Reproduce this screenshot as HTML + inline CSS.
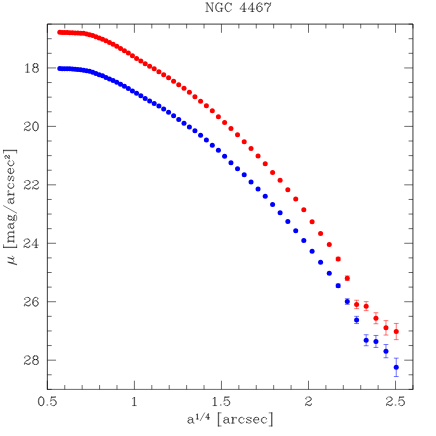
<!DOCTYPE html>
<html><head><meta charset="utf-8"><title>NGC 4467</title>
<style>
html,body{margin:0;padding:0;background:#fff;}
svg{display:block;}
</style></head>
<body>
<svg width="436" height="436" viewBox="0 0 436 436">
<rect width="436" height="436" fill="#fff"/>
<path d="M47.35 389.4V24.1H412.95V389.4" fill="none" stroke="#000" stroke-width="0.78"/>
<path d="M46.96 389.4H413.34" fill="none" stroke="#000" stroke-width="0.58"/>
<path d="M47.35 389.40v-8.7M47.35 24.10v8.7M64.76 389.40v-4.35M64.76 24.10v4.35M82.17 389.40v-4.35M82.17 24.10v4.35M99.58 389.40v-4.35M99.58 24.10v4.35M116.99 389.40v-4.35M116.99 24.10v4.35M134.40 389.40v-8.7M134.40 24.10v8.7M151.81 389.40v-4.35M151.81 24.10v4.35M169.22 389.40v-4.35M169.22 24.10v4.35M186.63 389.40v-4.35M186.63 24.10v4.35M204.04 389.40v-4.35M204.04 24.10v4.35M221.45 389.40v-8.7M221.45 24.10v8.7M238.85 389.40v-4.35M238.85 24.10v4.35M256.26 389.40v-4.35M256.26 24.10v4.35M273.67 389.40v-4.35M273.67 24.10v4.35M291.08 389.40v-4.35M291.08 24.10v4.35M308.49 389.40v-8.7M308.49 24.10v8.7M325.90 389.40v-4.35M325.90 24.10v4.35M343.31 389.40v-4.35M343.31 24.10v4.35M360.72 389.40v-4.35M360.72 24.10v4.35M378.13 389.40v-4.35M378.13 24.10v4.35M395.54 389.40v-8.7M395.54 24.10v8.7M412.95 389.40v-4.35M412.95 24.10v4.35M47.35 24.10h4.35M412.95 24.10h-4.35M47.35 38.71h4.35M412.95 38.71h-4.35M47.35 53.32h4.35M412.95 53.32h-4.35M47.35 67.94h8.7M412.95 67.94h-8.7M47.35 82.55h4.35M412.95 82.55h-4.35M47.35 97.16h4.35M412.95 97.16h-4.35M47.35 111.77h4.35M412.95 111.77h-4.35M47.35 126.38h8.7M412.95 126.38h-8.7M47.35 141.00h4.35M412.95 141.00h-4.35M47.35 155.61h4.35M412.95 155.61h-4.35M47.35 170.22h4.35M412.95 170.22h-4.35M47.35 184.83h8.7M412.95 184.83h-8.7M47.35 199.44h4.35M412.95 199.44h-4.35M47.35 214.06h4.35M412.95 214.06h-4.35M47.35 228.67h4.35M412.95 228.67h-4.35M47.35 243.28h8.7M412.95 243.28h-8.7M47.35 257.89h4.35M412.95 257.89h-4.35M47.35 272.50h4.35M412.95 272.50h-4.35M47.35 287.12h4.35M412.95 287.12h-4.35M47.35 301.73h8.7M412.95 301.73h-8.7M47.35 316.34h4.35M412.95 316.34h-4.35M47.35 330.95h4.35M412.95 330.95h-4.35M47.35 345.56h4.35M412.95 345.56h-4.35M47.35 360.18h8.7M412.95 360.18h-8.7M47.35 374.79h4.35M412.95 374.79h-4.35M47.35 389.40h4.35M412.95 389.40h-4.35" stroke="#000" stroke-width="0.58" fill="none"/>
<path d="M40.79 396.99L39.56 397.40L38.74 398.63L38.33 400.68L38.33 401.91L38.74 403.96L39.56 405.19L40.79 405.60L41.61 405.60L42.84 405.19L43.66 403.96L44.07 401.91L44.07 400.68L43.66 398.63L42.84 397.40L41.61 396.99L40.79 396.99M40.79 396.99L39.97 397.40L39.56 397.81L39.15 398.63L38.74 400.68L38.74 401.91L39.15 403.96L39.56 404.78L39.97 405.19L40.79 405.60M41.61 405.60L42.43 405.19L42.84 404.78L43.25 403.96L43.66 401.91L43.66 400.68L43.25 398.63L42.84 397.81L42.43 397.40L41.61 396.99M47.35 404.78L46.94 405.19L47.35 405.60L47.76 405.19L47.35 404.78M51.45 396.99L50.63 401.09M50.63 401.09L51.45 400.27L52.68 399.86L53.91 399.86L55.14 400.27L55.96 401.09L56.37 402.32L56.37 403.14L55.96 404.37L55.14 405.19L53.91 405.60L52.68 405.60L51.45 405.19L51.04 404.78L50.63 403.96L50.63 403.55L51.04 403.14L51.45 403.55L51.04 403.96M53.91 399.86L54.73 400.27L55.55 401.09L55.96 402.32L55.96 403.14L55.55 404.37L54.73 405.19L53.91 405.60M51.45 396.99L55.55 396.99M51.45 397.40L53.50 397.40L55.55 396.99M132.55 398.63L133.37 398.22L134.60 396.99L134.60 405.60M134.19 397.40L134.19 405.60M132.55 405.60L136.24 405.60M213.04 398.63L213.86 398.22L215.09 396.99L215.09 405.60M214.68 397.40L214.68 405.60M213.04 405.60L216.73 405.60M220.83 404.78L220.42 405.19L220.83 405.60L221.24 405.19L220.83 404.78M224.93 396.99L224.11 401.09M224.11 401.09L224.93 400.27L226.16 399.86L227.39 399.86L228.62 400.27L229.44 401.09L229.85 402.32L229.85 403.14L229.44 404.37L228.62 405.19L227.39 405.60L226.16 405.60L224.93 405.19L224.52 404.78L224.11 403.96L224.11 403.55L224.52 403.14L224.93 403.55L224.52 403.96M227.39 399.86L228.21 400.27L229.03 401.09L229.44 402.32L229.44 403.14L229.03 404.37L228.21 405.19L227.39 405.60M224.93 396.99L229.03 396.99M224.93 397.40L226.98 397.40L229.03 396.99M306.03 398.63L306.44 399.04L306.03 399.45L305.62 399.04L305.62 398.63L306.03 397.81L306.44 397.40L307.67 396.99L309.31 396.99L310.54 397.40L310.95 397.81L311.36 398.63L311.36 399.45L310.95 400.27L309.72 401.09L307.67 401.91L306.85 402.32L306.03 403.14L305.62 404.37L305.62 405.60M309.31 396.99L310.13 397.40L310.54 397.81L310.95 398.63L310.95 399.45L310.54 400.27L309.31 401.09L307.67 401.91M305.62 404.78L306.03 404.37L306.85 404.37L308.90 405.19L310.13 405.19L310.95 404.78L311.36 404.37M306.85 404.37L308.90 405.60L310.54 405.60L310.95 405.19L311.36 404.37L311.36 403.55M386.93 398.63L387.34 399.04L386.93 399.45L386.52 399.04L386.52 398.63L386.93 397.81L387.34 397.40L388.57 396.99L390.21 396.99L391.44 397.40L391.85 397.81L392.26 398.63L392.26 399.45L391.85 400.27L390.62 401.09L388.57 401.91L387.75 402.32L386.93 403.14L386.52 404.37L386.52 405.60M390.21 396.99L391.03 397.40L391.44 397.81L391.85 398.63L391.85 399.45L391.44 400.27L390.21 401.09L388.57 401.91M386.52 404.78L386.93 404.37L387.75 404.37L389.80 405.19L391.03 405.19L391.85 404.78L392.26 404.37M387.75 404.37L389.80 405.60L391.44 405.60L391.85 405.19L392.26 404.37L392.26 403.55M395.54 404.78L395.13 405.19L395.54 405.60L395.95 405.19L395.54 404.78M399.64 396.99L398.82 401.09M398.82 401.09L399.64 400.27L400.87 399.86L402.10 399.86L403.33 400.27L404.15 401.09L404.56 402.32L404.56 403.14L404.15 404.37L403.33 405.19L402.10 405.60L400.87 405.60L399.64 405.19L399.23 404.78L398.82 403.96L398.82 403.55L399.23 403.14L399.64 403.55L399.23 403.96M402.10 399.86L402.92 400.27L403.74 401.09L404.15 402.32L404.15 403.14L403.74 404.37L402.92 405.19L402.10 405.60M399.64 396.99L403.74 396.99M399.64 397.40L401.69 397.40L403.74 396.99M25.69 65.27L26.51 64.86L27.74 63.63L27.74 72.24M27.33 64.04L27.33 72.24M25.69 72.24L29.38 72.24M34.71 63.63L33.48 64.04L33.07 64.86L33.07 66.09L33.48 66.91L34.71 67.32L36.35 67.32L37.58 66.91L37.99 66.09L37.99 64.86L37.58 64.04L36.35 63.63L34.71 63.63M34.71 63.63L33.89 64.04L33.48 64.86L33.48 66.09L33.89 66.91L34.71 67.32M36.35 67.32L37.17 66.91L37.58 66.09L37.58 64.86L37.17 64.04L36.35 63.63M34.71 67.32L33.48 67.73L33.07 68.14L32.66 68.96L32.66 70.60L33.07 71.42L33.48 71.83L34.71 72.24L36.35 72.24L37.58 71.83L37.99 71.42L38.40 70.60L38.40 68.96L37.99 68.14L37.58 67.73L36.35 67.32M34.71 67.32L33.89 67.73L33.48 68.14L33.07 68.96L33.07 70.60L33.48 71.42L33.89 71.83L34.71 72.24M36.35 72.24L37.17 71.83L37.58 71.42L37.99 70.60L37.99 68.96L37.58 68.14L37.17 67.73L36.35 67.32M24.87 123.72L25.28 124.13L24.87 124.54L24.46 124.13L24.46 123.72L24.87 122.90L25.28 122.49L26.51 122.08L28.15 122.08L29.38 122.49L29.79 122.90L30.20 123.72L30.20 124.54L29.79 125.36L28.56 126.18L26.51 127.00L25.69 127.41L24.87 128.23L24.46 129.46L24.46 130.69M28.15 122.08L28.97 122.49L29.38 122.90L29.79 123.72L29.79 124.54L29.38 125.36L28.15 126.18L26.51 127.00M24.46 129.87L24.87 129.46L25.69 129.46L27.74 130.28L28.97 130.28L29.79 129.87L30.20 129.46M25.69 129.46L27.74 130.69L29.38 130.69L29.79 130.28L30.20 129.46L30.20 128.64M35.12 122.08L33.89 122.49L33.07 123.72L32.66 125.77L32.66 127.00L33.07 129.05L33.89 130.28L35.12 130.69L35.94 130.69L37.17 130.28L37.99 129.05L38.40 127.00L38.40 125.77L37.99 123.72L37.17 122.49L35.94 122.08L35.12 122.08M35.12 122.08L34.30 122.49L33.89 122.90L33.48 123.72L33.07 125.77L33.07 127.00L33.48 129.05L33.89 129.87L34.30 130.28L35.12 130.69M35.94 130.69L36.76 130.28L37.17 129.87L37.58 129.05L37.99 127.00L37.99 125.77L37.58 123.72L37.17 122.90L36.76 122.49L35.94 122.08M24.87 182.17L25.28 182.58L24.87 182.99L24.46 182.58L24.46 182.17L24.87 181.35L25.28 180.94L26.51 180.53L28.15 180.53L29.38 180.94L29.79 181.35L30.20 182.17L30.20 182.99L29.79 183.81L28.56 184.63L26.51 185.45L25.69 185.86L24.87 186.68L24.46 187.91L24.46 189.14M28.15 180.53L28.97 180.94L29.38 181.35L29.79 182.17L29.79 182.99L29.38 183.81L28.15 184.63L26.51 185.45M24.46 188.32L24.87 187.91L25.69 187.91L27.74 188.73L28.97 188.73L29.79 188.32L30.20 187.91M25.69 187.91L27.74 189.14L29.38 189.14L29.79 188.73L30.20 187.91L30.20 187.09M33.07 182.17L33.48 182.58L33.07 182.99L32.66 182.58L32.66 182.17L33.07 181.35L33.48 180.94L34.71 180.53L36.35 180.53L37.58 180.94L37.99 181.35L38.40 182.17L38.40 182.99L37.99 183.81L36.76 184.63L34.71 185.45L33.89 185.86L33.07 186.68L32.66 187.91L32.66 189.14M36.35 180.53L37.17 180.94L37.58 181.35L37.99 182.17L37.99 182.99L37.58 183.81L36.35 184.63L34.71 185.45M32.66 188.32L33.07 187.91L33.89 187.91L35.94 188.73L37.17 188.73L37.99 188.32L38.40 187.91M33.89 187.91L35.94 189.14L37.58 189.14L37.99 188.73L38.40 187.91L38.40 187.09M24.46 240.61L24.87 241.02L24.46 241.43L24.05 241.02L24.05 240.61L24.46 239.79L24.87 239.38L26.10 238.97L27.74 238.97L28.97 239.38L29.38 239.79L29.79 240.61L29.79 241.43L29.38 242.25L28.15 243.07L26.10 243.89L25.28 244.30L24.46 245.12L24.05 246.35L24.05 247.58M27.74 238.97L28.56 239.38L28.97 239.79L29.38 240.61L29.38 241.43L28.97 242.25L27.74 243.07L26.10 243.89M24.05 246.76L24.46 246.35L25.28 246.35L27.33 247.17L28.56 247.17L29.38 246.76L29.79 246.35M25.28 246.35L27.33 247.58L28.97 247.58L29.38 247.17L29.79 246.35L29.79 245.53M35.94 239.79L35.94 247.58M36.35 238.97L36.35 247.58M36.35 238.97L31.84 245.12L38.40 245.12M34.71 247.58L37.58 247.58M24.87 299.06L25.28 299.47L24.87 299.88L24.46 299.47L24.46 299.06L24.87 298.24L25.28 297.83L26.51 297.42L28.15 297.42L29.38 297.83L29.79 298.24L30.20 299.06L30.20 299.88L29.79 300.70L28.56 301.52L26.51 302.34L25.69 302.75L24.87 303.57L24.46 304.80L24.46 306.03M28.15 297.42L28.97 297.83L29.38 298.24L29.79 299.06L29.79 299.88L29.38 300.70L28.15 301.52L26.51 302.34M24.46 305.21L24.87 304.80L25.69 304.80L27.74 305.62L28.97 305.62L29.79 305.21L30.20 304.80M25.69 304.80L27.74 306.03L29.38 306.03L29.79 305.62L30.20 304.80L30.20 303.98M37.58 298.65L37.17 299.06L37.58 299.47L37.99 299.06L37.99 298.65L37.58 297.83L36.76 297.42L35.53 297.42L34.30 297.83L33.48 298.65L33.07 299.47L32.66 301.11L32.66 303.57L33.07 304.80L33.89 305.62L35.12 306.03L35.94 306.03L37.17 305.62L37.99 304.80L38.40 303.57L38.40 303.16L37.99 301.93L37.17 301.11L35.94 300.70L35.53 300.70L34.30 301.11L33.48 301.93L33.07 303.16M35.53 297.42L34.71 297.83L33.89 298.65L33.48 299.47L33.07 301.11L33.07 303.57L33.48 304.80L34.30 305.62L35.12 306.03M35.94 306.03L36.76 305.62L37.58 304.80L37.99 303.57L37.99 303.16L37.58 301.93L36.76 301.11L35.94 300.70M24.87 357.51L25.28 357.92L24.87 358.33L24.46 357.92L24.46 357.51L24.87 356.69L25.28 356.28L26.51 355.87L28.15 355.87L29.38 356.28L29.79 356.69L30.20 357.51L30.20 358.33L29.79 359.15L28.56 359.97L26.51 360.79L25.69 361.20L24.87 362.02L24.46 363.25L24.46 364.48M28.15 355.87L28.97 356.28L29.38 356.69L29.79 357.51L29.79 358.33L29.38 359.15L28.15 359.97L26.51 360.79M24.46 363.66L24.87 363.25L25.69 363.25L27.74 364.07L28.97 364.07L29.79 363.66L30.20 363.25M25.69 363.25L27.74 364.48L29.38 364.48L29.79 364.07L30.20 363.25L30.20 362.43M34.71 355.87L33.48 356.28L33.07 357.10L33.07 358.33L33.48 359.15L34.71 359.56L36.35 359.56L37.58 359.15L37.99 358.33L37.99 357.10L37.58 356.28L36.35 355.87L34.71 355.87M34.71 355.87L33.89 356.28L33.48 357.10L33.48 358.33L33.89 359.15L34.71 359.56M36.35 359.56L37.17 359.15L37.58 358.33L37.58 357.10L37.17 356.28L36.35 355.87M34.71 359.56L33.48 359.97L33.07 360.38L32.66 361.20L32.66 362.84L33.07 363.66L33.48 364.07L34.71 364.48L36.35 364.48L37.58 364.07L37.99 363.66L38.40 362.84L38.40 361.20L37.99 360.38L37.58 359.97L36.35 359.56M34.71 359.56L33.89 359.97L33.48 360.38L33.07 361.20L33.07 362.84L33.48 363.66L33.89 364.07L34.71 364.48M36.35 364.48L37.17 364.07L37.58 363.66L37.99 362.84L37.99 361.20L37.58 360.38L37.17 359.97L36.35 359.56M207.04 2.94L207.04 11.55M207.45 2.94L212.37 10.73M207.45 3.76L212.37 11.55M212.37 2.94L212.37 11.55M205.81 2.94L207.45 2.94M211.14 2.94L213.60 2.94M205.81 11.55L208.27 11.55M221.39 4.17L221.80 5.40L221.80 2.94L221.39 4.17L220.57 3.35L219.34 2.94L218.52 2.94L217.29 3.35L216.47 4.17L216.06 4.99L215.65 6.22L215.65 8.27L216.06 9.50L216.47 10.32L217.29 11.14L218.52 11.55L219.34 11.55L220.57 11.14L221.39 10.32M218.52 2.94L217.70 3.35L216.88 4.17L216.47 4.99L216.06 6.22L216.06 8.27L216.47 9.50L216.88 10.32L217.70 11.14L218.52 11.55M221.39 8.27L221.39 11.55M221.80 8.27L221.80 11.55M220.16 8.27L223.03 8.27M230.82 4.17L231.23 5.40L231.23 2.94L230.82 4.17L230.00 3.35L228.77 2.94L227.95 2.94L226.72 3.35L225.90 4.17L225.49 4.99L225.08 6.22L225.08 8.27L225.49 9.50L225.90 10.32L226.72 11.14L227.95 11.55L228.77 11.55L230.00 11.14L230.82 10.32L231.23 9.50M227.95 2.94L227.13 3.35L226.31 4.17L225.90 4.99L225.49 6.22L225.49 8.27L225.90 9.50L226.31 10.32L227.13 11.14L227.95 11.55M243.94 3.76L243.94 11.55M244.35 2.94L244.35 11.55M244.35 2.94L239.84 9.09L246.40 9.09M242.71 11.55L245.58 11.55M252.14 3.76L252.14 11.55M252.55 2.94L252.55 11.55M252.55 2.94L248.04 9.09L254.60 9.09M250.91 11.55L253.78 11.55M261.57 4.17L261.16 4.58L261.57 4.99L261.98 4.58L261.98 4.17L261.57 3.35L260.75 2.94L259.52 2.94L258.29 3.35L257.47 4.17L257.06 4.99L256.65 6.63L256.65 9.09L257.06 10.32L257.88 11.14L259.11 11.55L259.93 11.55L261.16 11.14L261.98 10.32L262.39 9.09L262.39 8.68L261.98 7.45L261.16 6.63L259.93 6.22L259.52 6.22L258.29 6.63L257.47 7.45L257.06 8.68M259.52 2.94L258.70 3.35L257.88 4.17L257.47 4.99L257.06 6.63L257.06 9.09L257.47 10.32L258.29 11.14L259.11 11.55M259.93 11.55L260.75 11.14L261.57 10.32L261.98 9.09L261.98 8.68L261.57 7.45L260.75 6.63L259.93 6.22M264.85 2.94L264.85 5.40M264.85 4.58L265.26 3.76L266.08 2.94L266.90 2.94L268.95 4.17L269.77 4.17L270.18 3.76L270.59 2.94M265.26 3.76L266.08 3.35L266.90 3.35L268.95 4.17M270.59 2.94L270.59 4.17L270.18 5.40L268.54 7.45L268.13 8.27L267.72 9.50L267.72 11.55M270.18 5.40L268.13 7.45L267.72 8.27L267.31 9.50L267.31 11.55M188.65 418.18L188.65 418.59L188.24 418.59L188.24 418.18L188.65 417.77L189.47 417.36L191.11 417.36L191.93 417.77L192.34 418.18L192.75 419.00L192.75 421.87L193.16 422.69L193.57 423.10M192.34 418.18L192.34 421.87L192.75 422.69L193.57 423.10L193.98 423.10M192.34 419.00L191.93 419.41L189.47 419.82L188.24 420.23L187.83 421.05L187.83 421.87L188.24 422.69L189.47 423.10L190.70 423.10L191.52 422.69L192.34 421.87M189.47 419.82L188.65 420.23L188.24 421.05L188.24 421.87L188.65 422.69L189.47 423.10M196.28 414.82L196.77 414.57L197.51 413.83L197.51 419.00M197.26 414.08L197.26 419.00M196.28 419.00L198.49 419.00M204.64 412.85L200.22 420.72M208.09 414.33L208.09 419.00M208.33 413.83L208.33 419.00M208.33 413.83L205.63 417.52L209.56 417.52M207.35 419.00L209.07 419.00M218.26 412.85L218.26 425.97M218.67 412.85L218.67 425.97M218.26 412.85L221.13 412.85M218.26 425.97L221.13 425.97M224.41 418.18L224.41 418.59L224.00 418.59L224.00 418.18L224.41 417.77L225.23 417.36L226.87 417.36L227.69 417.77L228.10 418.18L228.51 419.00L228.51 421.87L228.92 422.69L229.33 423.10M228.10 418.18L228.10 421.87L228.51 422.69L229.33 423.10L229.74 423.10M228.10 419.00L227.69 419.41L225.23 419.82L224.00 420.23L223.59 421.05L223.59 421.87L224.00 422.69L225.23 423.10L226.46 423.10L227.28 422.69L228.10 421.87M225.23 419.82L224.41 420.23L224.00 421.05L224.00 421.87L224.41 422.69L225.23 423.10M232.61 417.36L232.61 423.10M233.02 417.36L233.02 423.10M233.02 419.82L233.43 418.59L234.25 417.77L235.07 417.36L236.30 417.36L236.71 417.77L236.71 418.18L236.30 418.59L235.89 418.18L236.30 417.77M231.38 417.36L233.02 417.36M231.38 423.10L234.25 423.10M243.68 418.59L243.27 419.00L243.68 419.41L244.09 419.00L244.09 418.59L243.27 417.77L242.45 417.36L241.22 417.36L239.99 417.77L239.17 418.59L238.76 419.82L238.76 420.64L239.17 421.87L239.99 422.69L241.22 423.10L242.04 423.10L243.27 422.69L244.09 421.87M241.22 417.36L240.40 417.77L239.58 418.59L239.17 419.82L239.17 420.64L239.58 421.87L240.40 422.69L241.22 423.10M250.65 418.18L251.06 417.36L251.06 419.00L250.65 418.18L250.24 417.77L249.42 417.36L247.78 417.36L246.96 417.77L246.55 418.18L246.55 419.00L246.96 419.41L247.78 419.82L249.83 420.64L250.65 421.05L251.06 421.46M246.55 418.59L246.96 419.00L247.78 419.41L249.83 420.23L250.65 420.64L251.06 421.05L251.06 422.28L250.65 422.69L249.83 423.10L248.19 423.10L247.37 422.69L246.96 422.28L246.55 421.46L246.55 423.10L246.96 422.28M253.93 419.82L258.85 419.82L258.85 419.00L258.44 418.18L258.03 417.77L257.21 417.36L255.98 417.36L254.75 417.77L253.93 418.59L253.52 419.82L253.52 420.64L253.93 421.87L254.75 422.69L255.98 423.10L256.80 423.10L258.03 422.69L258.85 421.87M258.44 419.82L258.44 418.59L258.03 417.77M255.98 417.36L255.16 417.77L254.34 418.59L253.93 419.82L253.93 420.64L254.34 421.87L255.16 422.69L255.98 423.10M266.23 418.59L265.82 419.00L266.23 419.41L266.64 419.00L266.64 418.59L265.82 417.77L265.00 417.36L263.77 417.36L262.54 417.77L261.72 418.59L261.31 419.82L261.31 420.64L261.72 421.87L262.54 422.69L263.77 423.10L264.59 423.10L265.82 422.69L266.64 421.87M263.77 417.36L262.95 417.77L262.13 418.59L261.72 419.82L261.72 420.64L262.13 421.87L262.95 422.69L263.77 423.10M271.56 412.85L271.56 425.97M271.97 412.85L271.97 425.97M269.10 412.85L271.97 412.85M269.10 425.97L271.97 425.97M8.06 262.30L16.67 264.76M8.06 261.89L16.67 264.35M9.29 262.30L11.75 262.71L12.98 262.71L13.80 261.89L13.80 261.07L13.39 260.25L12.57 259.43L11.34 258.61M8.06 257.79L12.57 259.02L13.39 259.02L13.80 258.61L13.80 257.38L12.98 256.56L12.16 256.15M8.06 257.38L12.57 258.61L13.39 258.61L13.80 258.20M3.55 247.54L16.67 247.54M3.55 247.13L16.67 247.13M3.55 247.54L3.55 244.67M16.67 247.54L16.67 244.67M8.06 241.39L13.80 241.39M8.06 240.98L13.80 240.98M9.29 240.98L8.47 240.16L8.06 238.93L8.06 238.11L8.47 236.88L9.29 236.47L13.80 236.47M8.06 238.11L8.47 237.29L9.29 236.88L13.80 236.88M9.29 236.47L8.47 235.65L8.06 234.42L8.06 233.60L8.47 232.37L9.29 231.96L13.80 231.96M8.06 233.60L8.47 232.78L9.29 232.37L13.80 232.37M8.06 242.62L8.06 240.98M13.80 242.62L13.80 239.75M13.80 238.11L13.80 235.24M13.80 233.60L13.80 230.73M8.88 227.86L9.29 227.86L9.29 228.27L8.88 228.27L8.47 227.86L8.06 227.04L8.06 225.40L8.47 224.58L8.88 224.17L9.70 223.76L12.57 223.76L13.39 223.35L13.80 222.94M8.88 224.17L12.57 224.17L13.39 223.76L13.80 222.94L13.80 222.53M9.70 224.17L10.11 224.58L10.52 227.04L10.93 228.27L11.75 228.68L12.57 228.68L13.39 228.27L13.80 227.04L13.80 225.81L13.39 224.99L12.57 224.17M10.52 227.04L10.93 227.86L11.75 228.27L12.57 228.27L13.39 227.86L13.80 227.04M8.06 218.43L8.47 219.25L8.88 219.66L9.70 220.07L10.52 220.07L11.34 219.66L11.75 219.25L12.16 218.43L12.16 217.61L11.75 216.79L11.34 216.38L10.52 215.97L9.70 215.97L8.88 216.38L8.47 216.79L8.06 217.61L8.06 218.43M8.47 219.25L9.29 219.66L10.93 219.66L11.75 219.25M11.75 216.79L10.93 216.38L9.29 216.38L8.47 216.79M8.88 216.38L8.47 215.97L8.06 215.15L8.47 215.15L8.47 215.97M11.34 219.66L11.75 220.07L12.57 220.48L12.98 220.48L13.80 220.07L14.21 218.84L14.21 216.79L14.62 215.56L15.03 215.15M12.98 220.48L13.39 220.07L13.80 218.84L13.80 216.79L14.21 215.56L15.03 215.15L15.44 215.15L16.26 215.56L16.67 216.79L16.67 219.25L16.26 220.48L15.44 220.89L15.03 220.89L14.21 220.48L13.80 219.25M3.55 205.72L16.67 213.10M8.88 202.85L9.29 202.85L9.29 203.26L8.88 203.26L8.47 202.85L8.06 202.03L8.06 200.39L8.47 199.57L8.88 199.16L9.70 198.75L12.57 198.75L13.39 198.34L13.80 197.93M8.88 199.16L12.57 199.16L13.39 198.75L13.80 197.93L13.80 197.52M9.70 199.16L10.11 199.57L10.52 202.03L10.93 203.26L11.75 203.67L12.57 203.67L13.39 203.26L13.80 202.03L13.80 200.80L13.39 199.98L12.57 199.16M10.52 202.03L10.93 202.85L11.75 203.26L12.57 203.26L13.39 202.85L13.80 202.03M8.06 194.65L13.80 194.65M8.06 194.24L13.80 194.24M10.52 194.24L9.29 193.83L8.47 193.01L8.06 192.19L8.06 190.96L8.47 190.55L8.88 190.55L9.29 190.96L8.88 191.37L8.47 190.96M8.06 195.88L8.06 194.24M13.80 195.88L13.80 193.01M9.29 183.58L9.70 183.99L10.11 183.58L9.70 183.17L9.29 183.17L8.47 183.99L8.06 184.81L8.06 186.04L8.47 187.27L9.29 188.09L10.52 188.50L11.34 188.50L12.57 188.09L13.39 187.27L13.80 186.04L13.80 185.22L13.39 183.99L12.57 183.17M8.06 186.04L8.47 186.86L9.29 187.68L10.52 188.09L11.34 188.09L12.57 187.68L13.39 186.86L13.80 186.04M8.88 176.61L8.06 176.20L9.70 176.20L8.88 176.61L8.47 177.02L8.06 177.84L8.06 179.48L8.47 180.30L8.88 180.71L9.70 180.71L10.11 180.30L10.52 179.48L11.34 177.43L11.75 176.61L12.16 176.20M9.29 180.71L9.70 180.30L10.11 179.48L10.93 177.43L11.34 176.61L11.75 176.20L12.98 176.20L13.39 176.61L13.80 177.43L13.80 179.07L13.39 179.89L12.98 180.30L12.16 180.71L13.80 180.71L12.98 180.30M10.52 173.33L10.52 168.41L9.70 168.41L8.88 168.82L8.47 169.23L8.06 170.05L8.06 171.28L8.47 172.51L9.29 173.33L10.52 173.74L11.34 173.74L12.57 173.33L13.39 172.51L13.80 171.28L13.80 170.46L13.39 169.23L12.57 168.41M10.52 168.82L9.29 168.82L8.47 169.23M8.06 171.28L8.47 172.10L9.29 172.92L10.52 173.33L11.34 173.33L12.57 172.92L13.39 172.10L13.80 171.28M9.29 161.03L9.70 161.44L10.11 161.03L9.70 160.62L9.29 160.62L8.47 161.44L8.06 162.26L8.06 163.49L8.47 164.72L9.29 165.54L10.52 165.95L11.34 165.95L12.57 165.54L13.39 164.72L13.80 163.49L13.80 162.67L13.39 161.44L12.57 160.62M8.06 163.49L8.47 164.31L9.29 165.13L10.52 165.54L11.34 165.54L12.57 165.13L13.39 164.31L13.80 163.49M5.81 158.22L6.02 158.00L6.24 158.22L6.02 158.44L5.81 158.44L5.37 158.22L5.15 158.00L4.94 157.35L4.94 156.48L5.15 155.83L5.37 155.61L5.81 155.39L6.24 155.39L6.68 155.61L7.11 156.26L7.54 157.35L7.76 157.78L8.20 158.22L8.85 158.44L9.50 158.44M4.94 156.48L5.15 156.05L5.37 155.83L5.81 155.61L6.24 155.61L6.68 155.83L7.11 156.48L7.54 157.35M9.07 158.44L8.85 158.22L8.85 157.78L9.28 156.70L9.28 156.05L9.07 155.61L8.85 155.39M8.85 157.78L9.50 156.70L9.50 155.83L9.28 155.61L8.85 155.39L8.41 155.39M3.55 150.65L16.67 150.65M3.55 150.24L16.67 150.24M3.55 153.11L3.55 150.24M16.67 153.11L16.67 150.24" stroke="#000" stroke-width="0.5" fill="none" stroke-linecap="round" stroke-linejoin="round"/>
<g fill="#ff0000">
<path d="M338.16 257.25V260.65M335.76 257.25h4.8M335.76 260.65h4.8M347.28 275.95V280.55M344.88 275.95h4.8M344.88 280.55h4.8M356.61 300.25V308.65M354.21 300.25h4.8M354.21 308.65h4.8M366.16 301.65V310.65M363.76 301.65h4.8M363.76 310.65h4.8M375.95 312.75V323.75M373.55 312.75h4.8M373.55 323.75h4.8M385.97 320.65V335.05M383.57 320.65h4.8M383.57 335.05h4.8M396.24 323.45V339.65M393.84 323.45h4.8M393.84 339.65h4.8" stroke="#ff0000" stroke-width="0.55" fill="none"/>
<circle cx="59.81" cy="32.35" r="2.5"/>
<circle cx="62.20" cy="32.43" r="2.5"/>
<circle cx="64.66" cy="32.50" r="2.5"/>
<circle cx="67.18" cy="32.58" r="2.5"/>
<circle cx="69.76" cy="32.67" r="2.5"/>
<circle cx="72.39" cy="32.75" r="2.5"/>
<circle cx="75.10" cy="32.88" r="2.5"/>
<circle cx="77.87" cy="33.02" r="2.5"/>
<circle cx="80.70" cy="33.16" r="2.5"/>
<circle cx="83.60" cy="33.30" r="2.5"/>
<circle cx="86.58" cy="34.00" r="2.5"/>
<circle cx="89.62" cy="34.72" r="2.5"/>
<circle cx="92.74" cy="35.45" r="2.5"/>
<circle cx="95.93" cy="36.73" r="2.5"/>
<circle cx="99.20" cy="38.05" r="2.5"/>
<circle cx="102.55" cy="39.35" r="2.5"/>
<circle cx="105.98" cy="40.75" r="2.5"/>
<circle cx="109.50" cy="42.45" r="2.5"/>
<circle cx="113.09" cy="44.25" r="2.5"/>
<circle cx="116.78" cy="46.25" r="2.5"/>
<circle cx="120.55" cy="48.45" r="2.5"/>
<circle cx="124.42" cy="50.75" r="2.5"/>
<circle cx="128.37" cy="53.05" r="2.5"/>
<circle cx="132.43" cy="55.65" r="2.5"/>
<circle cx="136.58" cy="58.45" r="2.5"/>
<circle cx="140.83" cy="60.95" r="2.5"/>
<circle cx="145.18" cy="63.75" r="2.5"/>
<circle cx="149.64" cy="66.25" r="2.5"/>
<circle cx="154.20" cy="68.85" r="2.5"/>
<circle cx="158.88" cy="71.85" r="2.5"/>
<circle cx="163.67" cy="74.75" r="2.5"/>
<circle cx="168.57" cy="77.85" r="2.5"/>
<circle cx="173.60" cy="81.15" r="2.5"/>
<circle cx="178.74" cy="84.65" r="2.5"/>
<circle cx="184.01" cy="88.35" r="2.5"/>
<circle cx="189.40" cy="92.35" r="2.5"/>
<circle cx="194.92" cy="96.75" r="2.5"/>
<circle cx="200.58" cy="101.15" r="2.5"/>
<circle cx="206.38" cy="105.75" r="2.5"/>
<circle cx="212.31" cy="110.85" r="2.5"/>
<circle cx="218.39" cy="116.75" r="2.5"/>
<circle cx="224.61" cy="122.55" r="2.5"/>
<circle cx="230.98" cy="128.55" r="2.5"/>
<circle cx="237.51" cy="134.85" r="2.5"/>
<circle cx="244.20" cy="141.65" r="2.5"/>
<circle cx="251.04" cy="148.55" r="2.5"/>
<circle cx="258.05" cy="155.95" r="2.5"/>
<circle cx="265.23" cy="163.85" r="2.5"/>
<circle cx="272.58" cy="172.45" r="2.5"/>
<circle cx="280.11" cy="180.15" r="2.5"/>
<circle cx="287.83" cy="189.75" r="2.5"/>
<circle cx="295.72" cy="199.05" r="2.5"/>
<circle cx="303.81" cy="209.65" r="2.5"/>
<circle cx="312.10" cy="221.65" r="2.5"/>
<circle cx="320.58" cy="233.55" r="2.5"/>
<circle cx="329.27" cy="244.45" r="2.5"/>
<circle cx="338.16" cy="258.95" r="2.5"/>
<circle cx="347.28" cy="278.25" r="2.5"/>
<circle cx="356.61" cy="304.45" r="2.5"/>
<circle cx="366.16" cy="306.15" r="2.5"/>
<circle cx="375.95" cy="318.25" r="2.5"/>
<circle cx="385.97" cy="327.85" r="2.5"/>
<circle cx="396.24" cy="331.55" r="2.5"/>
</g>
<g fill="#0000ff">
<path d="M338.16 283.95V287.35M335.76 283.95h4.8M335.76 287.35h4.8M347.28 298.75V304.35M344.88 298.75h4.8M344.88 304.35h4.8M356.61 316.35V323.55M354.21 316.35h4.8M354.21 323.55h4.8M366.16 334.75V345.75M363.76 334.75h4.8M363.76 345.75h4.8M375.95 335.45V347.45M373.55 335.45h4.8M373.55 347.45h4.8M385.97 344.55V357.75M383.57 344.55h4.8M383.57 357.75h4.8M396.24 358.15V376.55M393.84 358.15h4.8M393.84 376.55h4.8" stroke="#0000ff" stroke-width="0.55" fill="none"/>
<circle cx="59.81" cy="68.58" r="2.5"/>
<circle cx="62.20" cy="68.65" r="2.5"/>
<circle cx="64.66" cy="68.71" r="2.5"/>
<circle cx="67.18" cy="68.78" r="2.5"/>
<circle cx="69.76" cy="68.85" r="2.5"/>
<circle cx="72.39" cy="69.07" r="2.5"/>
<circle cx="75.10" cy="69.29" r="2.5"/>
<circle cx="77.87" cy="69.52" r="2.5"/>
<circle cx="80.70" cy="69.75" r="2.5"/>
<circle cx="83.60" cy="70.23" r="2.5"/>
<circle cx="86.58" cy="70.72" r="2.5"/>
<circle cx="89.62" cy="71.22" r="2.5"/>
<circle cx="92.74" cy="72.37" r="2.5"/>
<circle cx="95.93" cy="73.55" r="2.5"/>
<circle cx="99.20" cy="74.65" r="2.5"/>
<circle cx="102.55" cy="75.85" r="2.5"/>
<circle cx="105.98" cy="77.55" r="2.5"/>
<circle cx="109.50" cy="78.95" r="2.5"/>
<circle cx="113.09" cy="80.55" r="2.5"/>
<circle cx="116.78" cy="82.35" r="2.5"/>
<circle cx="120.55" cy="84.25" r="2.5"/>
<circle cx="124.42" cy="86.35" r="2.5"/>
<circle cx="128.37" cy="88.55" r="2.5"/>
<circle cx="132.43" cy="91.05" r="2.5"/>
<circle cx="136.58" cy="93.35" r="2.5"/>
<circle cx="140.83" cy="95.85" r="2.5"/>
<circle cx="145.18" cy="98.45" r="2.5"/>
<circle cx="149.64" cy="100.95" r="2.5"/>
<circle cx="154.20" cy="103.55" r="2.5"/>
<circle cx="158.88" cy="105.95" r="2.5"/>
<circle cx="163.67" cy="109.05" r="2.5"/>
<circle cx="168.57" cy="112.31" r="2.5"/>
<circle cx="173.60" cy="115.65" r="2.5"/>
<circle cx="178.74" cy="119.55" r="2.5"/>
<circle cx="184.01" cy="123.35" r="2.5"/>
<circle cx="189.40" cy="127.05" r="2.5"/>
<circle cx="194.92" cy="130.85" r="2.5"/>
<circle cx="200.58" cy="135.25" r="2.5"/>
<circle cx="206.38" cy="140.05" r="2.5"/>
<circle cx="212.31" cy="145.15" r="2.5"/>
<circle cx="218.39" cy="150.15" r="2.5"/>
<circle cx="224.61" cy="156.25" r="2.5"/>
<circle cx="230.98" cy="162.75" r="2.5"/>
<circle cx="237.51" cy="168.75" r="2.5"/>
<circle cx="244.20" cy="174.65" r="2.5"/>
<circle cx="251.04" cy="181.95" r="2.5"/>
<circle cx="258.05" cy="188.95" r="2.5"/>
<circle cx="265.23" cy="196.35" r="2.5"/>
<circle cx="272.58" cy="204.45" r="2.5"/>
<circle cx="280.11" cy="212.65" r="2.5"/>
<circle cx="287.83" cy="221.45" r="2.5"/>
<circle cx="295.72" cy="230.65" r="2.5"/>
<circle cx="303.81" cy="240.45" r="2.5"/>
<circle cx="312.10" cy="251.25" r="2.5"/>
<circle cx="320.58" cy="262.35" r="2.5"/>
<circle cx="329.27" cy="273.35" r="2.5"/>
<circle cx="338.16" cy="285.65" r="2.5"/>
<circle cx="347.28" cy="301.55" r="2.5"/>
<circle cx="356.61" cy="319.95" r="2.5"/>
<circle cx="366.16" cy="340.25" r="2.5"/>
<circle cx="375.95" cy="341.45" r="2.5"/>
<circle cx="385.97" cy="351.15" r="2.5"/>
<circle cx="396.24" cy="367.35" r="2.5"/>
</g>
</svg>
</body></html>
